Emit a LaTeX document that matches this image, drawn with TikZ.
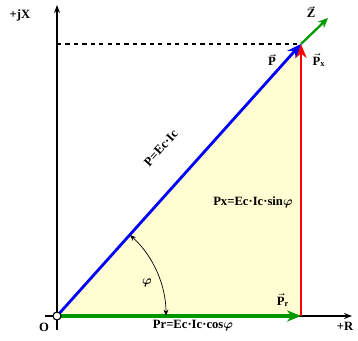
\documentclass[tikz,border=0pt]{standalone}
\usepackage{amsmath}
\usepackage{fontspec}
\setmainfont{Liberation Serif}
\usetikzlibrary{arrows.meta, positioning, calc}

\begin{document}
\begin{tikzpicture}[
    lbl/.style={font=\small\bfseries, inner sep=1pt},
    axis/.style={line width=1pt, -{Stealth[length=2mm]}},
    vec/.style={line width=2pt, -{Stealth[length=3.5mm, width=2.8mm]}},
    proj/.style={dashed, line width=0.9pt}
]
\useasboundingbox (-1.425,-0.625) rectangle (7.525,7.9);

% Points
\coordinate (O) at (0,0);
\coordinate (R) at (6.1,0);
\coordinate (T) at (6.1,6.8);
\coordinate (Zt) at (6.775,7.45);
\coordinate (xe) at (7.375,0);
\coordinate (ye) at (0,7.775);
\coordinate (xs) at (-0.3,0);
\coordinate (ys) at (0,-0.35);

% Triangle
\fill[yellow!18] (O) -- (R) -- (T) -- cycle;

% Axes
\draw[axis] (xs) -- (xe);
\draw[axis] (ys) -- (ye);
\draw[proj] (ye |- T) -- (T);

% Vectors
\draw[vec, green!60!black, line width=2.4pt] (O) -- (R);
\draw[vec, red] (R) -- (T);
\draw[vec, blue] (O) -- (T);
\draw[vec, green!60!black, line width=1.6pt, -{Stealth[length=2.5mm, width=2.2mm]}] (T) -- (Zt);
\draw[fill=white, line width=0.8pt] (O) circle (0.1);

% Angle
\draw[{Stealth[length=1.6mm]}-{Stealth[length=1.6mm]}, line width=0.5pt] (48.1:2.725) arc (48.1:0:2.725);
\node[lbl] (phi) at (2.25,0.825) {$\boldsymbol{\varphi}$};

% Labels
\node[lbl] (jx) at (-0.925,7.525) {+jX};
\node[lbl] (re) at (7.2,-0.25) {+R};
\node[lbl] (o) at (-0.325,-0.275) {O};
\node[lbl] (z) at (6.35,7.6) {$\vec{\mathbf{Z}}$};
\node[lbl] (p) at (5.375,6.4) {$\vec{\mathbf{P}}$};
\node[lbl] (px) at (6.55,6.4) {$\vec{\mathbf{P}}_{\mathbf{x}}$};
\node[lbl] (pr) at (5.65,0.4) {$\vec{\mathbf{P}}_{\mathbf{r}}$};
\node[lbl] (prv) at (3.4,-0.25) {Pr=Ec·Ic·cos$\boldsymbol{\varphi}$};
\node[lbl] (pxv) at (4.9,2.85) {Px=Ec·Ic·sin$\boldsymbol{\varphi}$};
\node[lbl, rotate=48.1] (pzv) at (2.6,4.2) {P=Ec·Ic};
\end{tikzpicture}
\end{document}
